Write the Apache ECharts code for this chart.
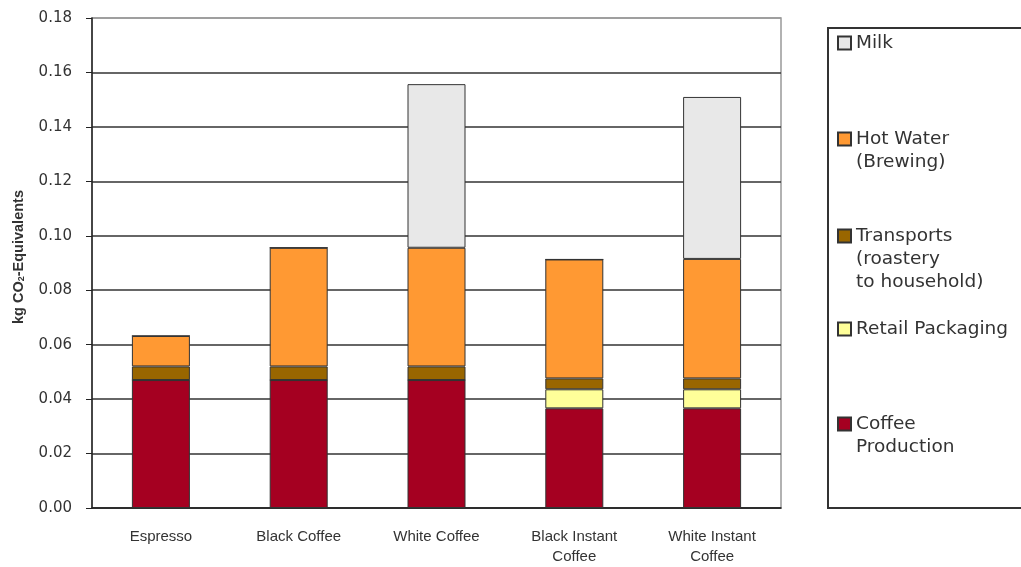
<!DOCTYPE html>
<html>
<head>
<meta charset="utf-8">
<script src="https://cdn.jsdelivr.net/npm/echarts@6/dist/echarts.min.js"></script>
<style>html,body{margin:0;padding:0;background:#fff;}#c{width:1021px;height:567px;}</style>
</head>
<body>
<div id="c"></div>
<script>
var categories = ['Espresso', 'Black Coffee', 'White Coffee', 'Black Instant\nCoffee', 'White Instant\nCoffee'];
var yTicks = [0, 0.02, 0.04, 0.06, 0.08, 0.10, 0.12, 0.14, 0.16, 0.18];
var coffeeProduction = [0.047, 0.047, 0.047, 0.0366, 0.0366];
var retailPackaging = [0, 0, 0, 0.007, 0.007];
var transports = [0.005, 0.005, 0.005, 0.004, 0.004];
var hotWater = [0.0112, 0.0436, 0.0436, 0.0437, 0.0439];
var milk = [0, 0, 0.0601, 0, 0.0595];
var seriesNames = ['Coffee Production', 'Retail Packaging', 'Transports', 'Hot Water', 'Milk'];
var legendLabels = {
  'Milk': 'Milk',
  'Hot Water': 'Hot Water\n(Brewing)',
  'Transports': 'Transports\n(roastery\nto household)',
  'Retail Packaging': 'Retail Packaging',
  'Coffee Production': 'Coffee\nProduction'
};

var colors = {
  'Coffee Production': '#A50021',
  'Retail Packaging': '#FFFF99',
  'Transports': '#996600',
  'Hot Water': '#FF9933',
  'Milk': '#E8E8E8'
};
var seriesData = [coffeeProduction, retailPackaging, transports, hotWater, milk];

var chart = echarts.init(document.getElementById('c'), null, {renderer: 'canvas'});

var series = seriesNames.map(function (n, i) {
  return {
    name: n,
    type: 'bar',
    stack: 'total',
    barWidth: 58,
    data: seriesData[i],
    itemStyle: {color: colors[n], borderColor: '#333', borderWidth: 1},
    emphasis: {disabled: true}
  };
});

var LH = 23;
var legendOrder = [
  {name: 'Milk', center: 43},
  {name: 'Hot Water', center: 139},
  {name: 'Transports', center: 236},
  {name: 'Retail Packaging', center: 329},
  {name: 'Coffee Production', center: 424}
];
var legends = legendOrder.map(function (it) {
  var lines = legendLabels[it.name].split('\n').length;
  var prefix = '';
  for (var k = 1; k < lines; k++) { prefix += ' \n'; }
  return {
    data: [{name: it.name, icon: 'rect'}],
    left: 837,
    top: it.center - LH / 2 - (lines - 1) * LH,
    padding: 0,
    itemWidth: 13,
    itemHeight: 13,
    selectedMode: false,
    formatter: function (n) { return prefix + legendLabels[n]; },
    textStyle: {
      fontFamily: 'DejaVu Sans', fontSize: 18.5, color: '#333',
      lineHeight: LH
    }
  };
});

var splitColors = yTicks.map(function (v, i) { return i === yTicks.length - 1 ? '#999' : '#333'; });

chart.setOption({
  animation: false,
  backgroundColor: '#fff',
  graphic: [{
    type: 'rect', z: 0,
    shape: {x: 828, y: 28, width: 220, height: 480},
    style: {fill: '#fff', stroke: '#333', lineWidth: 2}
  }],
  legend: legends,
  grid: {left: 92, top: 18, right: 240, bottom: 57, show: true, borderColor: '#999', borderWidth: 1.5, backgroundColor: 'transparent'},
  xAxis: {
    type: 'category',
    data: categories,
    axisLine: {lineStyle: {color: '#222', width: 1.5}},
    axisTick: {length: 5, lineStyle: {color: '#222'}},
    axisLabel: {fontFamily: 'Liberation Sans', fontSize: 15, color: '#333', lineHeight: 20, margin: 19, interval: 0}
  },
  yAxis: {
    type: 'value',
    min: 0, max: 0.18, interval: 0.02,
    name: 'kg CO{sub|2}-Equivalents',
    nameLocation: 'middle',
    nameGap: 66,
    nameTextStyle: {
      fontFamily: 'Liberation Sans', fontSize: 14.5, fontWeight: 'bold', color: '#333',
      padding: [0, 0, 0, 12],
      rich: {sub: {fontFamily: 'Liberation Sans', fontSize: 9, fontWeight: 'bold', color: '#333', verticalAlign: 'bottom', padding: [6, 0, 0, 0]}}
    },
    axisLine: {show: true, lineStyle: {color: '#222', width: 1.5}},
    axisTick: {show: true, length: 6, lineStyle: {color: '#222'}},
    axisLabel: {fontFamily: 'DejaVu Sans', fontSize: 15, color: '#333', margin: 20,
      formatter: function (v) { return v.toFixed(2); }},
    splitLine: {show: true, lineStyle: {color: splitColors, width: 1.5}}
  },
  series: series
});
</script>
</body>
</html>
